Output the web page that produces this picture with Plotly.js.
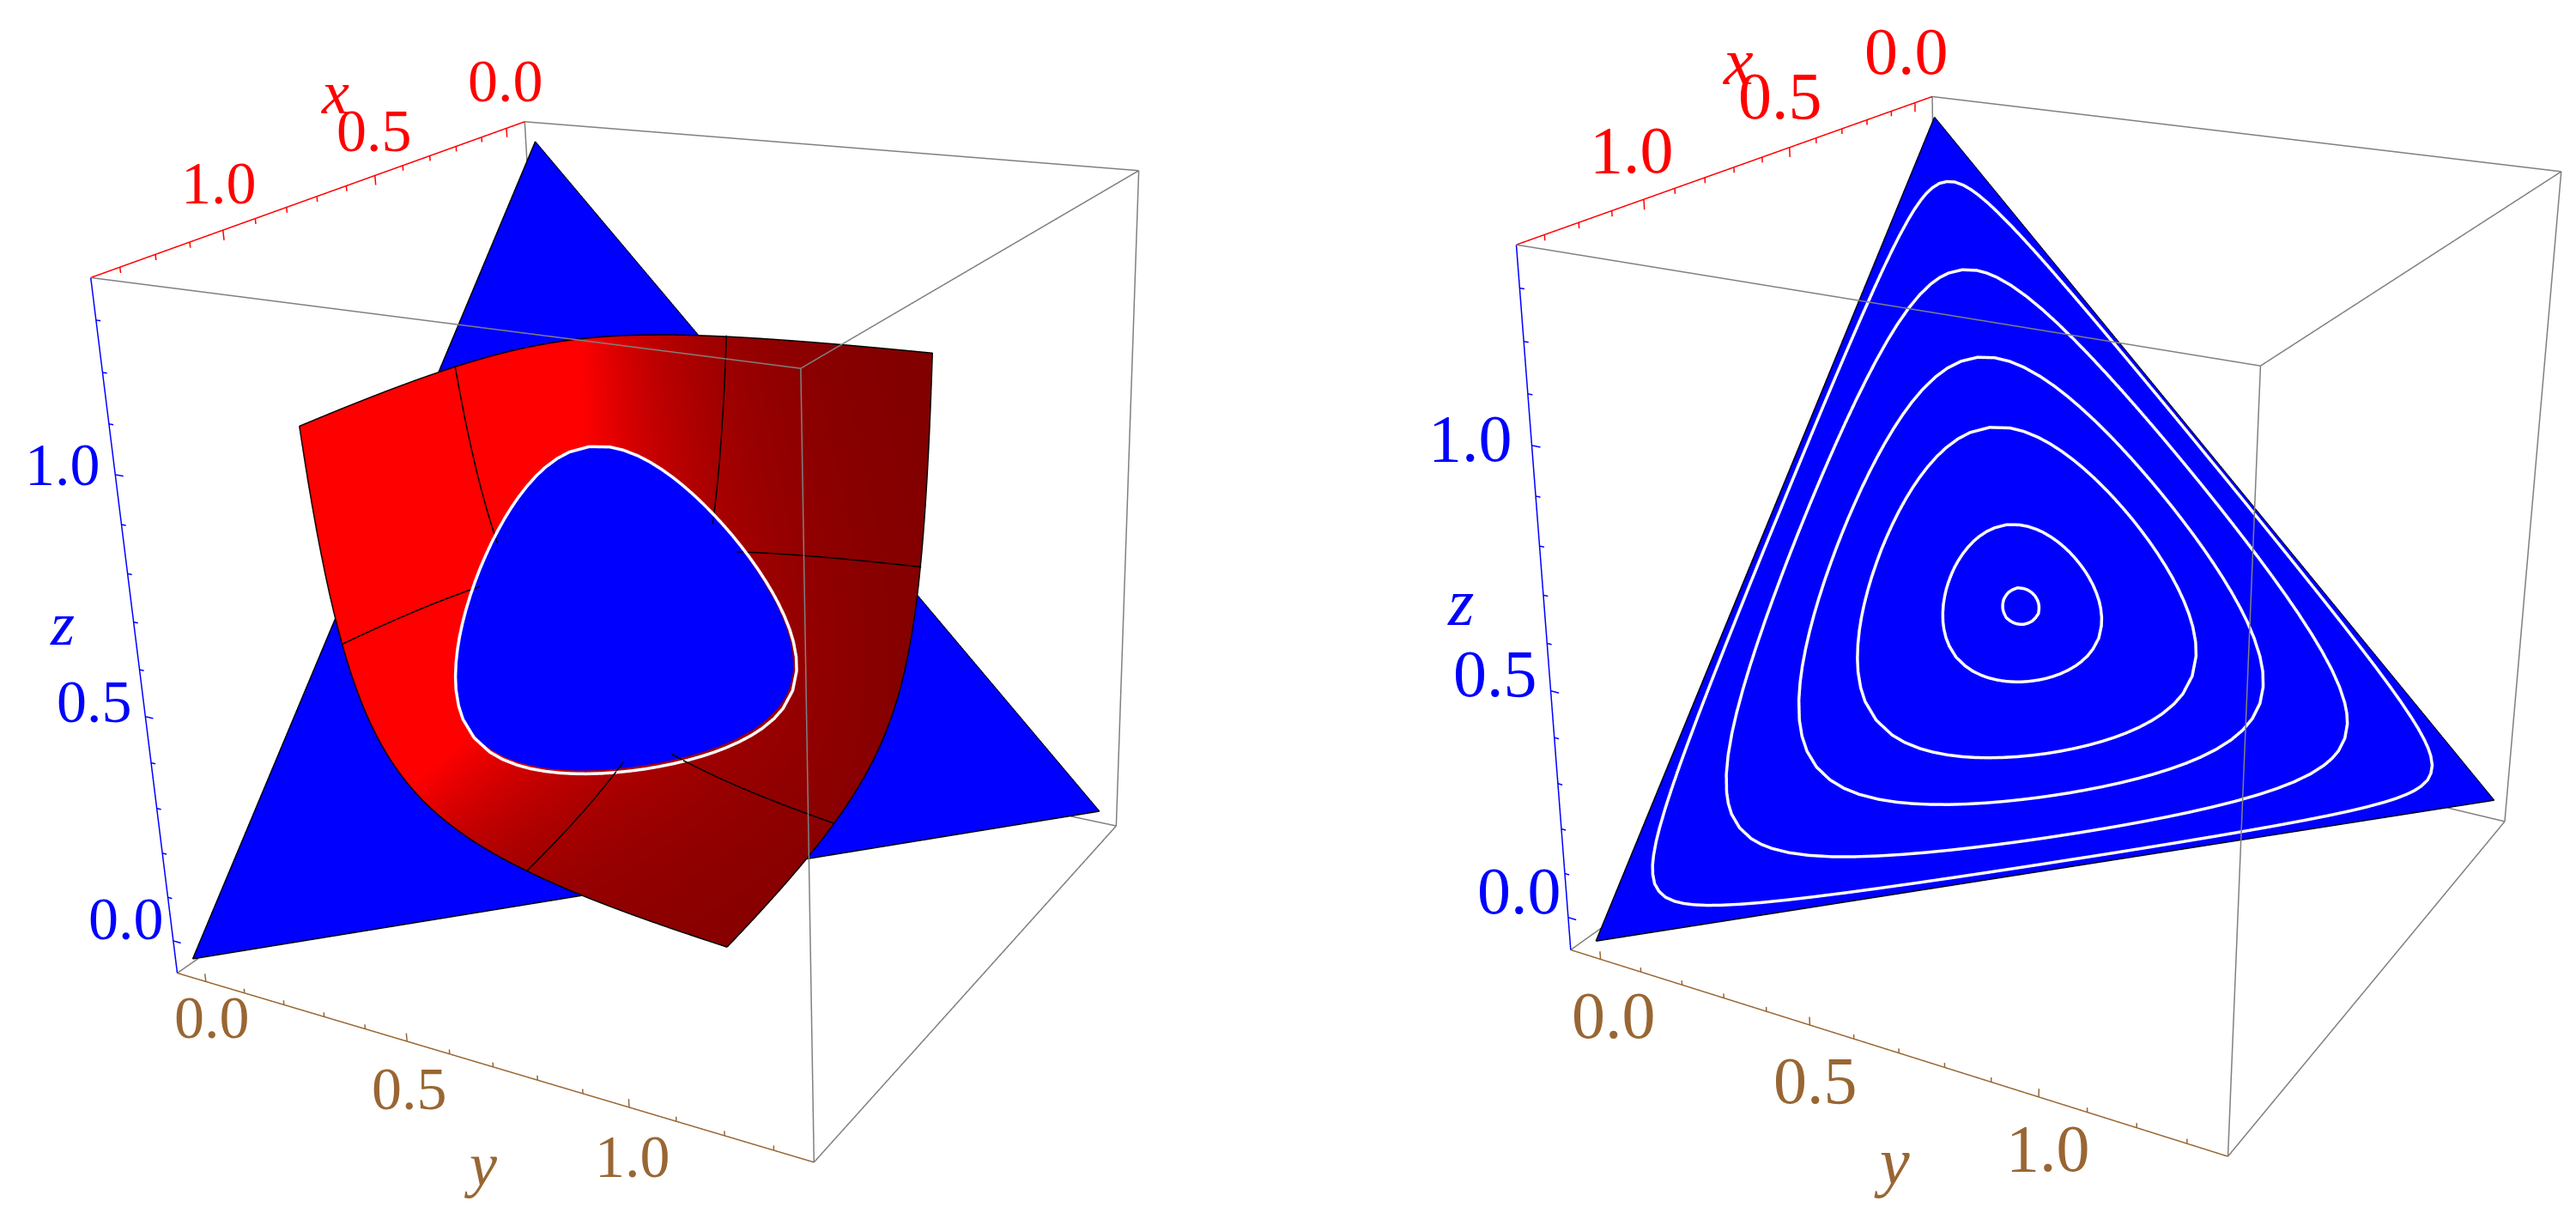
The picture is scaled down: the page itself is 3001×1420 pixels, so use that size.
<!DOCTYPE html>
<html><head><meta charset="utf-8">
<script src="https://cdn.plot.ly/plotly-3.0.1.min.js"></script>
<style>html,body{margin:0;padding:0;background:#fff;overflow:hidden;width:3001px;height:1420px}
#chart{position:absolute;left:0;top:-510px;width:3001px;height:2500px}</style></head>
<body><div id="chart"></div>
<script>
// axis extents and ticks
const axisLow = -0.075, axisHigh = 1.38;
const tickValues = [0,0.1,0.2,0.3,0.4,0.5,0.6,0.7,0.8,0.9,1.0,1.1,1.2,1.3];
const majorTicks = [0,0.5,1.0];
const tickLabels = ['0.0','0.5','1.0'];

// blue plane corners (x, y, z) as read in each panel
const leftCornerX = [1.41,0,-.007],  leftCornerY = [0,1.368,-.008], leftCornerZ = [0,0,1.355];
const rightCornerX = [1.39,0,-.028], rightCornerY = [0,1.375,.01],  rightCornerZ = [0,-.025,1.353];

// white closed curves on the plane: one sixth of each curve as shares of the plane,
// (largest, middle, smallest); the other five sixths are its mirror images
const ring1Big = [.3576,.356,.3545,.353,.351,.349,.347,.345];
const ring1Mid = [.3212,.3277,.33155,.3345,.33763,.3404,.3427,.345];
const ring1Low = [.3212,.3163,.31395,.3125,.31137,.3107,.3103,.31];
const ring2Big = [.4407,.4385,.435,.43,.425,.418,.41,.402,.395,.388,.3816];
const ring2Mid = [.2797,.2947,.30595,.31733,.3267,.33788,.3492,.35929,.3675,.3751,.3816];
const ring2Low = [.2797,.2668,.25905,.25268,.2483,.24412,.2408,.23871,.2375,.2369,.2368];
const ring3Big = [.5703,.5665,.56,.55,.54,.528,.515,.503,.49,.475,.46,.444,.4283];
const ring3Mid = [.2148,.23972,.25755,.27773,.29456,.31252,.3303,.34565,.3614,.37872,.3953,.41223,.4283];
const ring3Low = [.2148,.19378,.18245,.17227,.16544,.15948,.1547,.15135,.1486,.14628,.1447,.14377,.1434];
const ring4Big = [.665,.662,.655,.645,.63,.615,.6,.583,.565,.548,.53,.51,.49,.472,.4549];
const ring4Mid = [.1675,.1883,.20814,.22827,.25286,.27445,.29434,.31558,.337,.35648,.3765,.3981,.4191,.43767,.4549];
const ring4Low = [.1675,.1497,.13686,.12673,.11714,.11056,.10566,.10143,.098,.09552,.0935,.0919,.0909,.09033,.0902];
const ring5Big = [.7847,.782,.777,.77,.757,.74,.72,.7,.675,.65,.625,.6,.575,.55,.53,.515,.4975,.4803];
const ring5Mid = [.1076,.12536,.13884,.15285,.17411,.19805,.2236,.24761,.27632,.30406,.33113,.3577,.38386,.4097,.43018,.4454,.46309,.4803];
const ring5Low = [.1076,.09264,.08416,.07715,.06889,.06195,.0564,.05239,.04868,.04594,.04387,.0423,.04114,.0403,.03982,.0396,.03941,.0394];
const ring6Big = [.907,.9055,.9,.893,.885,.873,.86,.84,.82,.795,.77,.735,.7,.66,.62,.585,.55,.52,.496];
const ring6Mid = [.0464,.0562,.06825,.07958,.09072,.10593,.12131,.14386,.16565,.19225,.2184,.25459,.2904,.33108,.37154,.40681,.44198,.47206,.496];
const ring6Low = [.0464,.03831,.03175,.02743,.02428,.02107,.01869,.01614,.01435,.01275,.0116,.01042,.0096,.00892,.00846,.00819,.00802,.00795,.008];

// red sheet: coordinate values along its lattice; every vertex takes three of them
const sheetLevels = [1,.9408,.8851,.8327,.7834,.737,.6934,.6523,.6137,.5774,.5432,.511,.4808,.4523,.4255,
  .4003,.3766,.3543,.3333,.3136,.295,.2776,.2611,.2457,.2311,.2174,.2046,.1925,.1811,.1703,.1603,.1508,
  .1418,.1335,.1256,.1181,.1111,.1045,.0983,.0925,.087,.0819,.077,.0725,.0682];
const meshRow = 10;      // black mesh line index in sheetLevels

const RED='#ff0000', BLUE='#0000ff', BROWN='#996633', GREY='#808080';
const FONT='Liberation Serif';

function ringPath(big,mid,low,cx,cy,cz){
  const o={x:[],y:[],z:[]}, n=big.length, lift=.006;
  const add=(a,b,c)=>{
    o.x.push(a*cx[0]+b*cy[0]+c*cz[0]+lift);
    o.y.push(a*cx[1]+b*cy[1]+c*cz[1]+lift);
    o.z.push(a*cx[2]+b*cy[2]+c*cz[2]+lift);
  };
  for(let i=0;i<n;i++)add(mid[i],low[i],big[i]);
  for(let i=n-2;i>=0;i--)add(big[i],low[i],mid[i]);
  for(let i=1;i<n;i++)add(big[i],mid[i],low[i]);
  for(let i=n-2;i>=0;i--)add(mid[i],big[i],low[i]);
  for(let i=1;i<n;i++)add(low[i],big[i],mid[i]);
  for(let i=n-2;i>=0;i--)add(low[i],mid[i],big[i]);
  add(mid[1],low[1],big[1]);
  return o;
}
function lineTrace(scene,p,color,width){
  return {type:'scatter3d',mode:'lines',scene,x:p.x,y:p.y,z:p.z,line:{color,width},hoverinfo:'skip',showlegend:false,connectgaps:false};
}
function polyline(pts){const o={x:[],y:[],z:[]};pts.forEach(p=>{o.x.push(p?p[0]:null);o.y.push(p?p[1]:null);o.z.push(p?p[2]:null)});return o}

function boxTraces(scene){
  const L=axisLow,M=axisHigh,t=[];
  const grey=[[[L,L,M],[L,M,M]],[[L,M,M],[M,M,M]],[[M,L,M],[M,M,M]],[[M,M,M],[M,M,L]],
    [[L,M,M],[L,M,L]],[[L,M,L],[M,M,L]],[[L,L,M],[L,L,L]],[[L,L,L],[M,L,L]],[[L,L,L],[L,M,L]]];
  const g=[];grey.forEach(s=>{g.push(s[0],s[1],null)});
  t.push(lineTrace(scene,polyline(g),GREY,3));
  t.push(lineTrace(scene,polyline([[L,L,M],[M,L,M]]),RED,3));
  t.push(lineTrace(scene,polyline([[M,L,L],[M,M,L]]),BROWN,3));
  t.push(lineTrace(scene,polyline([[M,L,L],[M,L,M]]),BLUE,3));
  const xs=[],ys=[],zs=[];
  tickValues.forEach(v=>{const big=majorTicks.some(m=>Math.abs(m-v)<1e-6);
    xs.push([v,L,M],[v,L,M-(big?.02:.011)],null);
    ys.push([M,v,L],[M,v,L+(big?.018:.01)],null);
    zs.push([M,L,v],[M,L+(big?.02:.011),v],null);
  });
  t.push(lineTrace(scene,polyline(xs),RED,3));
  t.push(lineTrace(scene,polyline(ys),BROWN,3));
  t.push(lineTrace(scene,polyline(zs),BLUE,3));
  return t;
}
function planeTraces(scene,cx,cy,cz){
  return [{type:'mesh3d',scene,x:[cx[0],cy[0],cz[0]],y:[cx[1],cy[1],cz[1]],z:[cx[2],cy[2],cz[2]],i:[0],j:[1],k:[2],color:BLUE,flatshading:true,
      lighting:{ambient:1,diffuse:0,specular:0,fresnel:0,roughness:1},hoverinfo:'skip',showscale:false},
    lineTrace(scene,polyline([cx,cy,cz,cx]),'#000000',3)];
}
function sheetTraces(scene){
  const n=sheetLevels.length-1, X=[],Y=[],Z=[],I=[],J=[],K=[],S=[],id={};
  let c=0;
  for(let a=0;a<=n;a++)for(let b=0;b<=n-a;b++){
    const x=sheetLevels[a],y=sheetLevels[b],z=sheetLevels[n-a-b];
    X.push(x);Y.push(y);Z.push(z);id[a+'_'+b]=c++;
    // shading: bright towards +y, dark towards +x and +z
    const d=Math.sqrt(1/(x*x)+1/(y*y)+1/(z*z)),nx=1/x/d,ny=1/y/d,nz=1/z/d;
    S.push(Math.max(0,Math.min(1,.7-.23*nx+.7*ny-.2*nz)));
  }
  for(let a=0;a<n;a++)for(let b=0;b<n-a;b++){
    I.push(id[a+'_'+b]);J.push(id[(a+1)+'_'+b]);K.push(id[a+'_'+(b+1)]);
    if(a+b<n-1){I.push(id[(a+1)+'_'+b]);J.push(id[(a+1)+'_'+(b+1)]);K.push(id[a+'_'+(b+1)]);}
  }
  const mesh={type:'mesh3d',scene,x:X,y:Y,z:Z,i:I,j:J,k:K,intensity:S,cmin:0,cmax:1,showscale:false,
    colorscale:[[0,'#000000'],[1,'#ff0000']],flatshading:false,
    lighting:{ambient:1,diffuse:0,specular:0,fresnel:0,roughness:1},hoverinfo:'skip'};
  const lift=.004, edge=[];
  for(let b=0;b<=n;b++)edge.push([sheetLevels[0],sheetLevels[b],sheetLevels[n-b]]);
  for(let b=1;b<=n;b++)edge.push([sheetLevels[b],sheetLevels[n-b],sheetLevels[0]]);
  for(let b=1;b<=n;b++)edge.push([sheetLevels[n-b],sheetLevels[0],sheetLevels[b]]);
  const m=[],r=meshRow;
  for(let b=0;b<=n-r;b++)m.push([sheetLevels[r]+lift,sheetLevels[b]+lift,sheetLevels[n-r-b]+lift]);m.push(null);
  for(let b=0;b<=n-r;b++)m.push([sheetLevels[b]+lift,sheetLevels[r]+lift,sheetLevels[n-r-b]+lift]);m.push(null);
  for(let b=0;b<=n-r;b++)m.push([sheetLevels[b]+lift,sheetLevels[n-r-b]+lift,sheetLevels[r]+lift]);
  return [mesh,lineTrace(scene,polyline(edge),'#000000',3),lineTrace(scene,polyline(m),'#000000',3)];
}
const traces=[
  ...boxTraces('scene'),...planeTraces('scene',leftCornerX,leftCornerY,leftCornerZ),...sheetTraces('scene'),
  lineTrace('scene',ringPath(ring3Big,ring3Mid,ring3Low,leftCornerX,leftCornerY,leftCornerZ),'#ffffff',7),
  ...boxTraces('scene2'),...planeTraces('scene2',rightCornerX,rightCornerY,rightCornerZ),
  ...[[ring1Big,ring1Mid,ring1Low],[ring2Big,ring2Mid,ring2Low],[ring3Big,ring3Mid,ring3Low],
      [ring4Big,ring4Mid,ring4Low],[ring5Big,ring5Mid,ring5Low],[ring6Big,ring6Mid,ring6Low]]
      .map(r=>lineTrace('scene2',ringPath(r[0],r[1],r[2],rightCornerX,rightCornerY,rightCornerZ),'#ffffff',7))
];
function labels(size,letterSize,sx,sy,sz,lx,ly,lz){
  const L=axisLow,M=axisHigh,a=[];
  const add=(x,y,z,text,color,s,fs)=>a.push({x,y,z,text,showarrow:false,xshift:s[0],yshift:s[1],
    xanchor:'center',yanchor:'middle',font:{family:FONT,size:fs,color}});
  majorTicks.forEach((v,i)=>{
    add(v,L,M,tickLabels[i],RED,sx[i],size);
    add(M,v,L,tickLabels[i],BROWN,sy[i],size);
    add(M,L,v,tickLabels[i],BLUE,sz[i],size);
  });
  add(.6,L,M,'<i>x</i>',RED,lx,letterSize);
  add(M,.65,L,'<i>y</i>',BROWN,ly,letterSize);
  add(M,L,.7,'<i>z</i>',BLUE,lz,letterSize);
  return a;
}
// the scene range is wider than the drawn box so that nothing on the box is clipped;
// the aspect ratio is scaled by the same factor so the box keeps its size
const rangePad = 0.05;
const rangeGrow = (axisHigh-axisLow+2*rangePad)/(axisHigh-axisLow);
function sceneLayout(domainX,aspect,eye,center,up,annotations){
  const ax={visible:false,range:[axisLow-rangePad,axisHigh+rangePad],autorange:false,showspikes:false};
  const a=aspect*rangeGrow;
  return {domain:{x:domainX,y:[0,1]},aspectmode:'manual',aspectratio:{x:a,y:a,z:a},
    camera:{eye,center,up,projection:{type:'perspective'}},bgcolor:'#ffffff',
    xaxis:{...ax},yaxis:{...ax},zaxis:{...ax},annotations};
}
const layout={width:3001,height:2500,margin:{l:0,r:0,t:0,b:0},paper_bgcolor:'#ffffff',showlegend:false,hovermode:false,
  scene:sceneLayout([0,1416/3001],1.435,{x:4.094,y:2.487,z:1.874},{x:.142,y:-.019,z:-.074},{x:-.04,y:.028,z:1},
    labels(70,72,[[-1,55],[-1,52],[-5,55]],[[7,-42],[3,-55],[4,-58]],[[-55,26],[-59,17],[-61,11]],[-13,108],[10,-122],[-83,-2])),
  scene2:sceneLayout([1670/3001,1],1.478,{x:4.318,y:2.291,z:1.972},{x:.19,y:-.028,z:-.093},{x:-.035,y:.001,z:1},
    labels(78,78,[[-10,60],[-11,60],[-14,58]],[[15,-65],[7,-64],[11,-60]],[[-57,31],[-65,20],[-71,8]],[-28,112],[18,-134],[-96,-8]))
};
Plotly.newPlot('chart',traces,layout,{displayModeBar:false,plotGlPixelRatio:2});
</script></body></html>
